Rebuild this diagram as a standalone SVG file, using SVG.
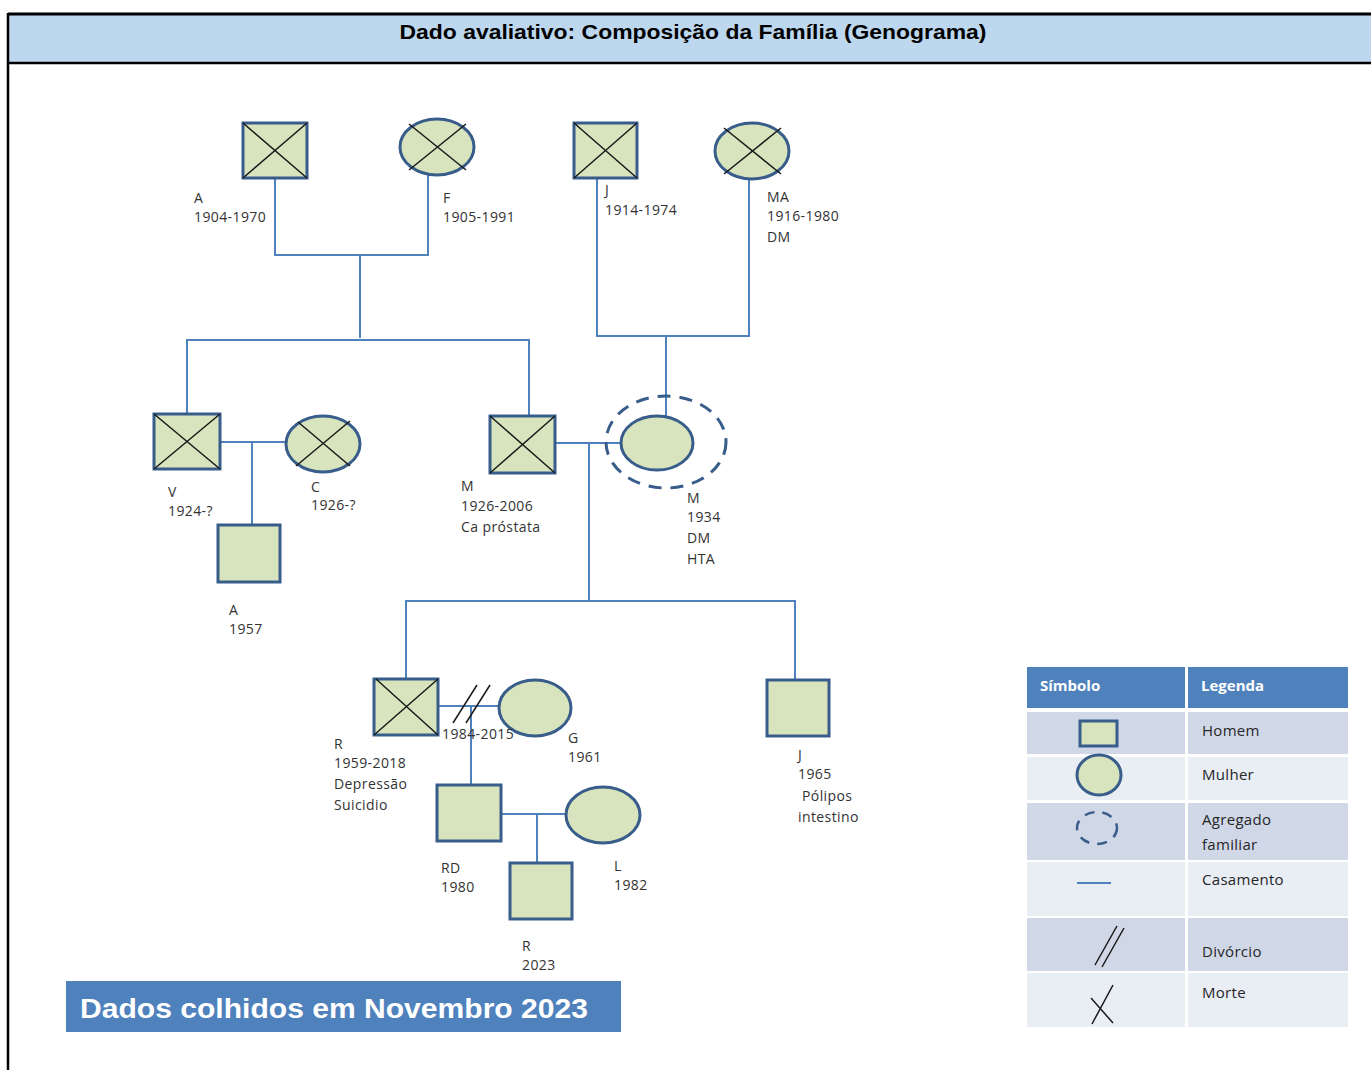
<svg xmlns="http://www.w3.org/2000/svg" width="1371" height="1070" viewBox="0 0 1371 1070">
  <style>
    .p { fill: #d7e4bd; stroke: #385d8a; stroke-width: 3; }
    .x { stroke: #1a1a1a; stroke-width: 1.5; fill: none; }
    .ln { stroke: #4f81bd; stroke-width: 2; fill: none; }
    .dash { fill: none; stroke: #385d8a; stroke-width: 3; stroke-dasharray: 13 9; }
    .lbl { font-family: "Open Sans", "Liberation Sans", sans-serif; font-size: 14px; fill: #333; letter-spacing: 0.4px; }
    .leg { font-family: "Open Sans", "Liberation Sans", sans-serif; font-size: 15px; fill: #262626; letter-spacing: 0.3px; }
    .legh { font-family: "Open Sans", "Liberation Sans", sans-serif; font-size: 15px; font-weight: bold; fill: #ffffff; }
    .rowA { fill: #d0d8e8; }
    .rowB { fill: #e9edf4; }
  </style>

  <rect width="1371" height="1070" fill="#ffffff"/>

  <!-- page frame and title band -->
  <g id="header">
    <rect x="8" y="14" width="1370" height="49" fill="#bdd7ee"/>
    <line x1="8" y1="14" x2="1371" y2="14" stroke="#000" stroke-width="3"/>
    <line x1="8" y1="63" x2="1371" y2="63" stroke="#000" stroke-width="2.5"/>
    <line x1="8" y1="13" x2="8" y2="1070" stroke="#000" stroke-width="2.5"/>
    <text x="693" y="39" text-anchor="middle" font-family="'Liberation Sans', sans-serif" font-size="21" font-weight="bold" fill="#000" textLength="587" lengthAdjust="spacingAndGlyphs">Dado avaliativo: Composição da Família (Genograma)</text>
  </g>

  <!-- connectors -->
  <g id="connectors" class="ln">
    <path d="M275,178 V255 H428 V175"/>
    <path d="M360,255 V338"/>
    <path d="M187,414 V340 H529 V416"/>
    <path d="M597,178 V336 H749 V179"/>
    <path d="M666,336 V417"/>
    <path d="M220,442 H286"/>
    <path d="M252,442 V525"/>
    <path d="M555,443 H622"/>
    <path d="M589,443 V601"/>
    <path d="M406,679 V601 H795 V680"/>
    <path d="M438,706 H499"/>
    <path d="M471,706 V785"/>
    <path d="M501,814 H566"/>
    <path d="M537,814 V863"/>
    <g id="divorce" class="x">
      <line x1="453" y1="723" x2="477" y2="685"/>
      <line x1="466" y1="723" x2="490" y2="685"/>
    </g>
  </g>

  <!-- generation 1 -->
  <g id="node-A-1904">
    <rect class="p" x="243" y="123" width="64" height="55"/>
    <path class="x" d="M243,123 L307,178 M307,123 L243,178"/>
    <text class="lbl" x="194" y="203">A</text>
    <text class="lbl" x="194" y="222">1904-1970</text>
  </g>
  <g id="node-F-1905">
    <ellipse class="p" cx="437" cy="147" rx="37" ry="28"/>
    <path class="x" d="M409,124 L466,170 M409,170 L466,124"/>
    <text class="lbl" x="443" y="203">F</text>
    <text class="lbl" x="443" y="222">1905-1991</text>
  </g>
  <g id="node-J-1914">
    <rect class="p" x="574" y="123" width="63" height="55"/>
    <path class="x" d="M574,123 L637,178 M637,123 L574,178"/>
    <text class="lbl" x="605" y="195">J</text>
    <text class="lbl" x="605" y="215">1914-1974</text>
  </g>
  <g id="node-MA-1916">
    <ellipse class="p" cx="752" cy="151" rx="37" ry="28"/>
    <path class="x" d="M724,128 L781,174 M724,174 L781,128"/>
    <text class="lbl" x="767" y="202">MA</text>
    <text class="lbl" x="767" y="221">1916-1980</text>
    <text class="lbl" x="767" y="242">DM</text>
  </g>

  <!-- generation 2 -->
  <g id="node-V-1924">
    <rect class="p" x="154" y="414" width="66" height="55"/>
    <path class="x" d="M154,414 L220,469 M220,414 L154,469"/>
    <text class="lbl" x="168" y="497">V</text>
    <text class="lbl" x="168" y="516">1924-?</text>
  </g>
  <g id="node-C-1926">
    <ellipse class="p" cx="323" cy="444" rx="37" ry="28"/>
    <path class="x" d="M296,466 L350,421 M298,422 L350,466"/>
    <text class="lbl" x="311" y="492">C</text>
    <text class="lbl" x="311" y="510">1926-?</text>
  </g>
  <g id="node-A-1957">
    <rect class="p" x="218" y="525" width="62" height="57"/>
    <text class="lbl" x="229" y="615">A</text>
    <text class="lbl" x="229" y="634">1957</text>
  </g>
  <g id="node-M-1926">
    <rect class="p" x="490" y="416" width="65" height="57"/>
    <path class="x" d="M490,416 L555,473 M555,416 L490,473"/>
    <text class="lbl" x="461" y="491">M</text>
    <text class="lbl" x="461" y="511">1926-2006</text>
    <text class="lbl" x="461" y="532">Ca próstata</text>
  </g>
  <g id="node-M-1934">
    <ellipse class="dash" cx="666" cy="442" rx="60" ry="46"/>
    <ellipse class="p" cx="657" cy="443" rx="36" ry="27"/>
    <text class="lbl" x="687" y="503">M</text>
    <text class="lbl" x="687" y="522">1934</text>
    <text class="lbl" x="687" y="543">DM</text>
    <text class="lbl" x="687" y="564">HTA</text>
  </g>

  <!-- generation 3 -->
  <g id="node-R-1959">
    <rect class="p" x="374" y="679" width="64" height="56"/>
    <path class="x" d="M376,679 L438,735 M438,679 L374,735"/>
    <text class="lbl" x="334" y="749">R</text>
    <text class="lbl" x="334" y="768">1959-2018</text>
    <text class="lbl" x="334" y="789">Depressão</text>
    <text class="lbl" x="334" y="810">Suicidio</text>
  </g>
  <g id="node-G-1961">
    <ellipse class="p" cx="535" cy="708" rx="36" ry="28"/>
    <text class="lbl" x="568" y="743">G</text>
    <text class="lbl" x="568" y="762">1961</text>
  </g>
  <g id="node-J-1965">
    <rect class="p" x="767" y="680" width="62" height="56"/>
    <text class="lbl" x="798" y="760">J</text>
    <text class="lbl" x="798" y="779">1965</text>
    <text class="lbl" x="802" y="801">Pólipos</text>
    <text class="lbl" x="798" y="822">intestino</text>
  </g>
  <text id="marriage-years" class="lbl" x="442" y="739">1984-2015</text>

  <!-- generation 4 and 5 -->
  <g id="node-RD-1980">
    <rect class="p" x="437" y="785" width="64" height="56"/>
    <text class="lbl" x="441" y="873">RD</text>
    <text class="lbl" x="441" y="892">1980</text>
  </g>
  <g id="node-L-1982">
    <ellipse class="p" cx="603" cy="815" rx="37" ry="28"/>
    <text class="lbl" x="614" y="871">L</text>
    <text class="lbl" x="614" y="890">1982</text>
  </g>
  <g id="node-R-2023">
    <rect class="p" x="510" y="863" width="62" height="56"/>
    <text class="lbl" x="522" y="951">R</text>
    <text class="lbl" x="522" y="970">2023</text>
  </g>

  <!-- collection date banner -->
  <g id="banner">
    <rect x="66" y="981" width="555" height="51" fill="#4f81bd"/>
    <text x="80" y="1018" font-family="'Liberation Sans', sans-serif" font-size="28" font-weight="bold" fill="#ffffff" textLength="508" lengthAdjust="spacingAndGlyphs">Dados colhidos em Novembro 2023</text>
  </g>

  <!-- symbol legend -->
  <g id="legend">
    <rect x="1027" y="667" width="158" height="41" fill="#4f81bd"/>
    <rect x="1188" y="667" width="160" height="41" fill="#4f81bd"/>
    <text class="legh" x="1040" y="691">Símbolo</text>
    <text class="legh" x="1201" y="691">Legenda</text>

    <rect class="rowA" x="1027" y="712" width="158" height="42"/>
    <rect class="rowA" x="1188" y="712" width="160" height="42"/>
    <rect class="rowB" x="1027" y="757" width="158" height="43"/>
    <rect class="rowB" x="1188" y="757" width="160" height="43"/>
    <rect class="rowA" x="1027" y="803" width="158" height="57"/>
    <rect class="rowA" x="1188" y="803" width="160" height="57"/>
    <rect class="rowB" x="1027" y="862" width="158" height="54"/>
    <rect class="rowB" x="1188" y="862" width="160" height="54"/>
    <rect class="rowA" x="1027" y="918" width="158" height="53"/>
    <rect class="rowA" x="1188" y="918" width="160" height="53"/>
    <rect class="rowB" x="1027" y="973" width="158" height="54"/>
    <rect class="rowB" x="1188" y="973" width="160" height="54"/>

    <rect class="p" x="1080" y="721" width="37" height="25" stroke-width="2.5"/>
    <ellipse class="p" cx="1099" cy="775" rx="22" ry="20" stroke-width="2.5"/>
    <ellipse cx="1097" cy="828" rx="20" ry="16" fill="none" stroke="#385d8a" stroke-width="2.5" stroke-dasharray="10 8"/>
    <line x1="1077" y1="883" x2="1111" y2="883" stroke="#4f81bd" stroke-width="2"/>
    <path class="x" d="M1095,965 L1117,926 M1102,967 L1124,928"/>
    <path class="x" d="M1091,998 L1113,1023 M1092,1024 L1113,985"/>

    <text class="leg" x="1202" y="736">Homem</text>
    <text class="leg" x="1202" y="780">Mulher</text>
    <text class="leg" x="1202" y="825">Agregado</text>
    <text class="leg" x="1202" y="850">familiar</text>
    <text class="leg" x="1202" y="885">Casamento</text>
    <text class="leg" x="1202" y="957">Divórcio</text>
    <text class="leg" x="1202" y="998">Morte</text>
  </g>
</svg>
